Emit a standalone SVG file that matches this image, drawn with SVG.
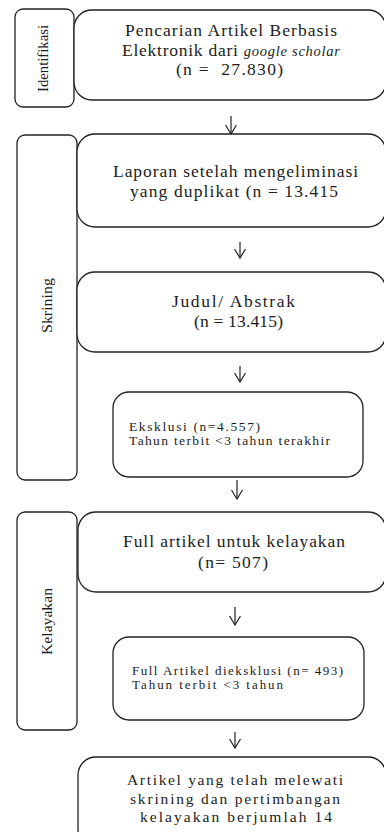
<svg xmlns="http://www.w3.org/2000/svg" width="384" height="832" viewBox="0 0 384 832">
<defs>
<style>
.box{fill:#fff;stroke:#222;stroke-width:1.3}
.t{font-family:"Liberation Serif","Times New Roman",serif;fill:#1c1c1c}
.b{font-size:17.5px}
.m{font-size:15.5px}
.s{font-size:13.5px}
.ln{stroke:#222;stroke-width:1.2;fill:none}
</style>
<marker id="arr" markerUnits="userSpaceOnUse" viewBox="0 0 10 12" refX="9.5" refY="6" markerWidth="10" markerHeight="12" orient="auto">
<path d="M0.5,0.5 L9.5,6 L0.5,11.5" fill="none" stroke="#222" stroke-width="1.2"/>
</marker>
</defs>
<rect width="384" height="832" fill="#fff"/>

<g id="side-identifikasi">
<rect class="box" x="15" y="9" width="59" height="98" rx="8"/>
<text class="t" font-size="14" transform="translate(47.5 92) rotate(-90)" x="0" y="0" textLength="67" lengthAdjust="spacingAndGlyphs">Identifikasi</text>
</g>
<g id="side-skrining">
<rect class="box" x="17" y="135" width="60" height="345" rx="8"/>
<text class="t" font-size="14" transform="translate(52 333) rotate(-90)" x="0" y="0" textLength="55" lengthAdjust="spacingAndGlyphs">Skrining</text>
</g>
<g id="side-kelayakan">
<rect class="box" x="17" y="512" width="60" height="218" rx="8"/>
<text class="t" font-size="14" transform="translate(52 655) rotate(-90)" x="0" y="0" textLength="67" lengthAdjust="spacingAndGlyphs">Kelayakan</text>
</g>

<g id="node-pencarian">
<rect class="box" x="74" y="10" width="312" height="90" rx="18"/>
<text class="t b" x="125" y="36" textLength="212">Pencarian Artikel Berbasis</text>
<text class="t b" x="122" y="56" textLength="218">Elektronik dari <tspan font-style="italic" font-size="14.5">google scholar</tspan></text>
<text class="t b" x="176" y="75" textLength="107" xml:space="preserve">(n =  27.830)</text>
</g>

<g id="node-laporan">
<rect class="box" x="77" y="134" width="309" height="93" rx="18"/>
<text class="t b" x="113" y="177" textLength="245">Laporan setelah mengeliminasi</text>
<text class="t b" x="130" y="197" textLength="208">yang duplikat (n = 13.415</text>
</g>

<g id="node-judul">
<rect class="box" x="77" y="272" width="309" height="80" rx="18"/>
<text class="t b" x="172" y="307" textLength="123">Judul/ Abstrak</text>
<text class="t b" x="194" y="327" textLength="89">(n = 13.415)</text>
</g>

<g id="node-eksklusi">
<rect class="box" x="113" y="392" width="250" height="85" rx="16"/>
<text class="t s" x="129" y="431" textLength="131">Eksklusi (n=4.557)</text>
<text class="t s" x="129" y="445" textLength="201">Tahun terbit &lt;3 tahun terakhir</text>
</g>

<g id="node-full">
<rect class="box" x="78" y="512" width="308" height="80" rx="18"/>
<text class="t b" x="123" y="547" textLength="222">Full artikel untuk kelayakan</text>
<text class="t b" x="198" y="568" textLength="70">(n= 507)</text>
</g>

<g id="node-full-eksklusi">
<rect class="box" x="113" y="637" width="251" height="83" rx="16"/>
<text class="t" font-size="13" x="132" y="675" textLength="211">Full Artikel dieksklusi (n= 493)</text>
<text class="t" font-size="13" x="132" y="688.5" textLength="151">Tahun terbit &lt;3 tahun</text>
</g>

<g id="node-hasil">
<rect class="box" x="78" y="757" width="308" height="90" rx="18"/>
<text class="t m" x="127" y="785" textLength="216">Artikel yang telah melewati</text>
<text class="t m" x="130" y="803.5" textLength="210">skrining dan pertimbangan</text>
<text class="t m" x="140" y="822" textLength="192">kelayakan berjumlah 14</text>
</g>

<g id="connectors">
<line class="ln" x1="231" y1="116" x2="231" y2="134" marker-end="url(#arr)"/>
<line class="ln" x1="240" y1="242" x2="240" y2="258" marker-end="url(#arr)"/>
<line class="ln" x1="240" y1="366" x2="240" y2="382" marker-end="url(#arr)"/>
<line class="ln" x1="237" y1="480" x2="237" y2="499" marker-end="url(#arr)"/>
<line class="ln" x1="235" y1="607" x2="235" y2="625" marker-end="url(#arr)"/>
<line class="ln" x1="235" y1="732" x2="235" y2="748" marker-end="url(#arr)"/>
</g>
</svg>
